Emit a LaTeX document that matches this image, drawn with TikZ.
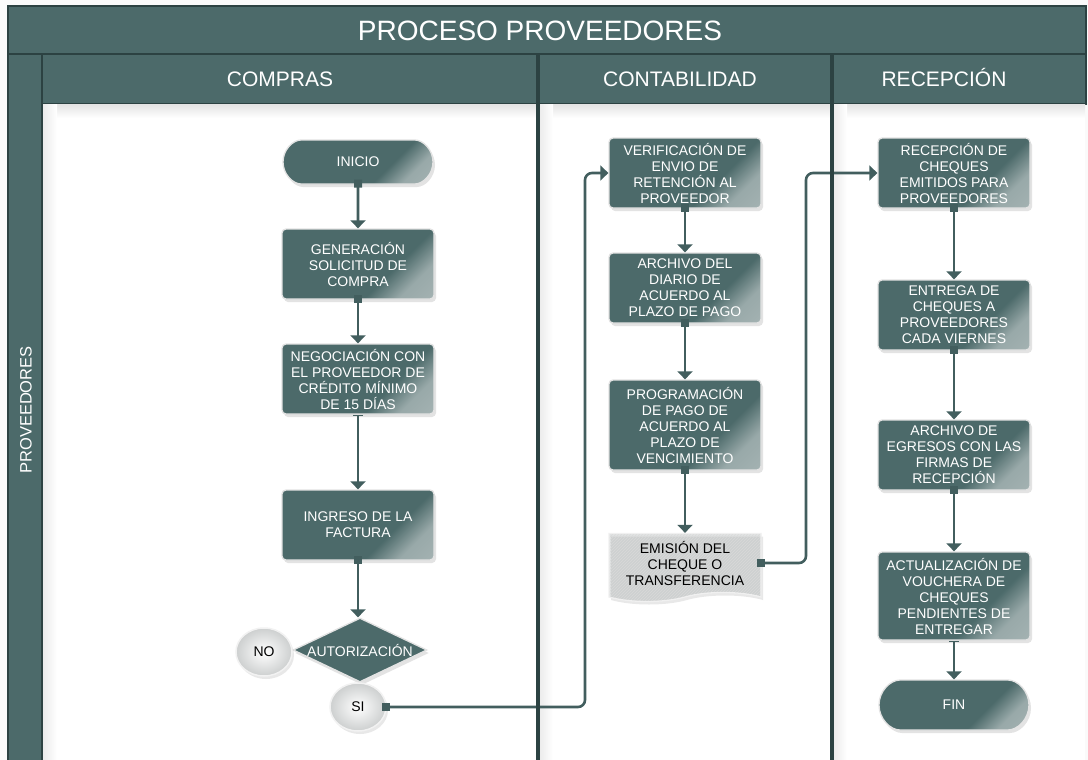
\documentclass[tikz,border=0pt]{standalone}
\usepackage{fontspec}
\setmainfont{Liberation Sans}
\usepackage{tikz}
\usetikzlibrary{arrows.meta,calc,positioning,shapes,shapes.misc,shapes.symbols,shadows,patterns}

\definecolor{verdeg}{RGB}{76,106,106}
\definecolor{verdeo}{RGB}{44,66,66}
\definecolor{verdel}{RGB}{66,94,94}
\definecolor{verdec}{RGB}{178,190,190}
\definecolor{grisc}{RGB}{224,227,227}

\pgfdeclareverticalshading{cajashade}{100bp}{color(0bp)=(verdec); color(26bp)=(verdec!75!verdeg); color(37bp)=(verdeg); color(100bp)=(verdeg)}

\begin{document}
\begin{tikzpicture}[
	x=1pt, y=-1pt,
	proceso/.style={rectangle, rounded corners=4pt, draw=gray!22, line width=1.3pt,
		shading=cajashade, shading angle=45, text=white, align=center,
		minimum width=152pt, minimum height=70pt, inner sep=1pt,
		font=\fontsize{14}{16}\selectfont,
		drop shadow={opacity=0.22, shadow xshift=2pt, shadow yshift=-3pt}},
	terminal/.style={proceso, rounded rectangle, minimum height=44pt},
	decision/.style={diamond, aspect=2.1, fill=verdeg, draw=gray!22, line width=1.3pt, text=white,
		minimum width=134pt, minimum height=64pt, inner sep=0pt,
		font=\fontsize{14}{16}\selectfont,
		drop shadow={opacity=0.22, shadow xshift=2pt, shadow yshift=-3pt}},
	respuesta/.style={ellipse, shading=radial, inner color=white, outer color=grisc!80!gray,
		draw=white!90!gray, line width=1.5pt, minimum width=56pt, minimum height=48pt,
		font=\fontsize{14}{16}\selectfont,
		drop shadow={opacity=0.18, shadow xshift=2pt, shadow yshift=-3pt}},
	documento/.style={tape, tape bend top=none, tape bend height=9pt,
		preaction={fill=grisc}, pattern=north east lines, pattern color=gray!30,
		draw=white!88!gray, line width=1.3pt, align=center,
		minimum width=152pt, minimum height=68pt, inner sep=1pt,
		font=\fontsize{14}{16}\selectfont,
		drop shadow={opacity=0.18, shadow xshift=2pt, shadow yshift=-3pt}},
	titulo/.style={text=white, anchor=base, font=\fontsize{28}{30}\selectfont},
	carril/.style={text=white, anchor=base, font=\fontsize{21}{24}\selectfont},
	banda/.style={fill=verdeg, draw=verdeo, line width=2pt},
	flujo/.style={draw=verdel, line width=2.6pt, shorten <=-5pt,
		{Square[length=8pt,width=8pt]}-{Triangle[length=8pt,width=15pt]}},
	flujot/.style={draw=verdel, line width=2.6pt,
		{Bar[width=10pt,line width=1.6pt]}-{Triangle[length=8pt,width=15pt]}}
	]
	\useasboundingbox (0,0) rectangle (1088,760);
	\fill[white!96!gray] (0,0) rectangle (1088,760);

	% Marco y encabezados
	\draw[banda] (8,6) rectangle (1086,54);
	\draw[banda] (8,54) rectangle (42,762);
	\draw[banda] (42,54) rectangle (538,104);
	\draw[banda] (538,54) rectangle (832,104);
	\draw[banda] (832,54) rectangle (1086,104);
	\foreach \xa/\xb in {42/538, 538/832, 832/1086} {
		\fill[white] (\xa+1,105) rectangle (\xb-1,762);
		\fill[top color=gray!20, bottom color=white] (\xa+1,105) rectangle (\xb-1,118);
		\fill[left color=gray!16, right color=white] (\xa+1,105) rectangle (\xa+15,762);
	}
	\node[titulo] (proc) at (540,41) {PROCESO PROVEEDORES};
	\node[carril] (compras) at (280,87) {COMPRAS};
	\node[carril] (contab) at (680,87) {CONTABILIDAD};
	\node[carril] (recep) at (944,87) {RECEPCIÓN};
	\node[text=white, font=\fontsize{16.5}{18}\selectfont, rotate=90] (prov) at (26,410) {PROVEEDORES};

	% Compras
	\node[terminal] (inicio) at (358,162) {INICIO};
	\node[proceso] (gensol) at (358,264) {GENERACIÓN\\SOLICITUD DE\\COMPRA};
	\node[proceso] (negoc) at (358,379) {NEGOCIACIÓN CON\\EL PROVEEDOR DE\\CRÉDITO MÍNIMO\\DE 15 DÍAS};
	\node[proceso] (ingreso) at (358,525) {INGRESO DE LA\\FACTURA};
	\node[decision] (autoriz) at (360,650) {AUTORIZACIÓN};
	\node[respuesta] (no) at (264,652) {NO};
	\node[respuesta] (si) at (358,707) {SI};

	% Contabilidad
	\node[proceso] (verif) at (685,173) {VERIFICACIÓN DE\\ENVIO DE\\RETENCIÓN AL\\PROVEEDOR};
	\node[proceso] (archdia) at (685,288) {ARCHIVO DEL\\DIARIO DE\\ACUERDO AL\\PLAZO DE PAGO};
	\node[proceso, minimum height=90pt] (progr) at (685,425) {PROGRAMACIÓN\\DE PAGO DE\\ACUERDO AL\\PLAZO DE\\VENCIMIENTO};
	\node[documento] (emision) at (685,563) {EMISIÓN DEL\\CHEQUE O\\TRANSFERENCIA};

	% Recepcion
	\node[proceso] (recch) at (954,173) {RECEPCIÓN DE\\CHEQUES\\EMITIDOS PARA\\PROVEEDORES};
	\node[proceso] (entrega) at (954,315) {ENTREGA DE\\CHEQUES A\\PROVEEDORES\\CADA VIERNES};
	\node[proceso] (archegr) at (954,455) {ARCHIVO DE\\EGRESOS CON LAS\\FIRMAS DE\\RECEPCIÓN};
	\node[proceso, minimum height=88pt] (actual) at (954,596) {ACTUALIZACIÓN DE\\VOUCHERA DE\\CHEQUES\\PENDIENTES DE\\ENTREGAR};
	\node[terminal, minimum height=50pt] (fin) at (954,705) {FIN};

	% Conectores
	\coordinate (c1) at (585,0);
	\coordinate (c2) at (806,0);
	\draw[flujo] (inicio) -- (gensol);
	\draw[flujo] (gensol) -- (negoc);
	\draw[flujot] (negoc) -- (ingreso);
	\draw[flujo] (ingreso) -- (ingreso |- autoriz.north);
	\draw[flujo, rounded corners=7pt] (si.east) -- (si.east -| c1) |- (verif.west);
	\draw[flujo] (verif) -- (archdia);
	\draw[flujo] (archdia) -- (progr);
	\draw[flujo] (progr) -- (emision);
	\draw[flujo, rounded corners=7pt] (emision.east) -- (emision.east -| c2) |- (recch.west);
	\draw[flujo] (recch) -- (entrega);
	\draw[flujo] (entrega) -- (archegr);
	\draw[flujo] (archegr) -- (actual);
	\draw[flujot] (actual) -- (fin);

	% Divisiones de carriles
	\draw[verdeo, line width=4pt] (538,54) -- (538,762);
	\draw[verdeo, line width=4pt] (832,54) -- (832,762);
\end{tikzpicture}
\end{document}
